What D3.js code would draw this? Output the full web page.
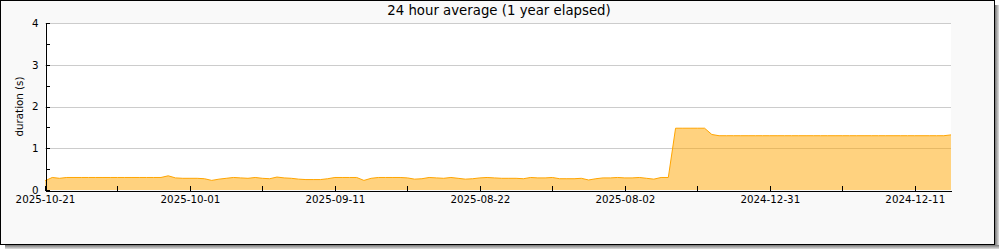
<!DOCTYPE html>
<html>
<head>
<meta charset="utf-8">
<script src="https://cdn.jsdelivr.net/npm/d3@7"></script>
<style>
  body { margin: 0; background: #fff; }
  text { font-family: "DejaVu Sans", sans-serif; fill: #000; }
</style>
</head>
<body>
<div id="chart"></div>
<script>
// Chart data
var title = "24 hour average (1 year elapsed)";
var yTitle = "duration (s)";
var xLabels = ["2025-10-21", "2025-10-01", "2025-09-11", "2025-08-22", "2025-08-02", "2024-12-31", "2024-12-11"];
var yTicks = [0, 1, 2, 3, 4];

// one sample per day, left to right
var durations = [
    0.22, 0.30, 0.28, 0.30, 0.30, 0.30, 0.30, 0.30, 0.30, 0.30,
    0.30, 0.30, 0.30, 0.30, 0.30, 0.30, 0.30, 0.34, 0.29, 0.28,
    0.28, 0.28, 0.27, 0.23, 0.26, 0.28, 0.30, 0.29, 0.28, 0.30,
    0.28, 0.27, 0.31, 0.29, 0.28, 0.26, 0.25, 0.25, 0.25, 0.27,
    0.30, 0.30, 0.30, 0.30, 0.23, 0.28, 0.30, 0.30, 0.30, 0.30,
    0.29, 0.26, 0.27, 0.30, 0.29, 0.28, 0.30, 0.28, 0.26, 0.27,
    0.29, 0.30, 0.29, 0.28, 0.28, 0.28, 0.27, 0.30, 0.29, 0.29,
    0.30, 0.27, 0.27, 0.27, 0.28, 0.24, 0.27, 0.29, 0.29, 0.30,
    0.29, 0.29, 0.30, 0.28, 0.26, 0.30, 0.30, 1.48, 1.48, 1.48,
    1.48, 1.48, 1.33, 1.30, 1.30, 1.30, 1.30, 1.30, 1.30, 1.30,
    1.30, 1.30, 1.30, 1.30, 1.30, 1.30, 1.30, 1.30, 1.30, 1.30,
    1.30, 1.30, 1.30, 1.30, 1.30, 1.30, 1.30, 1.30, 1.30, 1.30,
    1.30, 1.30, 1.30, 1.30, 1.30, 1.32
];

var svgWidth = 1000;
var svgHeight = 250;

// plot area (pixels)
var plot = { left: 45, right: 951, top: 23, bottom: 190 };

var svg = d3.select("#chart")
    .append("svg")
    .attr("width", svgWidth)
    .attr("height", svgHeight);

// drop shadow
var defs = svg.append("defs");
var gRight = defs.append("linearGradient").attr("id", "shR").attr("x1", 0).attr("x2", 1).attr("y1", 0).attr("y2", 0);
gRight.append("stop").attr("offset", "0%").attr("stop-color", "#777");
gRight.append("stop").attr("offset", "100%").attr("stop-color", "#e0e0e0");
var gBottom = defs.append("linearGradient").attr("id", "shB").attr("x1", 0).attr("x2", 0).attr("y1", 0).attr("y2", 1);
gBottom.append("stop").attr("offset", "0%").attr("stop-color", "#777");
gBottom.append("stop").attr("offset", "100%").attr("stop-color", "#e0e0e0");

svg.append("rect").attr("x", 995).attr("y", 5).attr("width", 4).attr("height", 244).attr("fill", "url(#shR)");
svg.append("rect").attr("x", 5).attr("y", 245).attr("width", 994).attr("height", 4).attr("fill", "url(#shB)");

// frame
svg.append("rect")
    .attr("x", 0.5).attr("y", 0.5)
    .attr("width", 994).attr("height", 244)
    .attr("fill", "#f9f9f9")
    .attr("stroke", "#000")
    .attr("stroke-width", 1);
svg.append("line").attr("x1", 994.5).attr("x2", 994.5).attr("y1", 0).attr("y2", 245).attr("stroke", "#000").attr("stroke-width", 1);
svg.append("line").attr("x1", 0).attr("x2", 995).attr("y1", 244.5).attr("y2", 244.5).attr("stroke", "#000").attr("stroke-width", 1);

// plot background
svg.append("rect")
    .attr("x", plot.left).attr("y", plot.top)
    .attr("width", plot.right - plot.left).attr("height", plot.bottom - plot.top)
    .attr("fill", "#fff");

// scales
var nDays = durations.length - 1;
var xScale = d3.scaleLinear().domain([0, nDays]).range([plot.left, plot.right]);
var yScale = d3.scaleLinear().domain([0, 4]).range([plot.bottom, plot.top]);

// horizontal grid
svg.append("g")
    .selectAll("line")
    .data(yTicks.filter(d => d > 0))
    .enter()
    .append("line")
    .attr("x1", plot.left)
    .attr("x2", plot.right)
    .attr("y1", d => Math.round(yScale(d)) + 0.5)
    .attr("y2", d => Math.round(yScale(d)) + 0.5)
    .attr("stroke", "#cccccc")
    .attr("stroke-width", 1);

// area + line
var area = d3.area()
    .x((d, i) => xScale(i))
    .y0(yScale(0))
    .y1(d => yScale(d));

var line = d3.line()
    .x((d, i) => xScale(i))
    .y(d => yScale(d));

svg.append("path")
    .datum(durations)
    .attr("d", area)
    .attr("fill", "#ffa500")
    .attr("fill-opacity", 0.5);

svg.append("path")
    .datum(durations)
    .attr("d", line)
    .attr("fill", "none")
    .attr("stroke", "#ffa500")
    .attr("stroke-width", 1);

// axes
var xTickDays = d3.range(0, nDays, 10);
var bottomAxis = d3.axisBottom(xScale)
    .tickValues(xTickDays)
    .tickSize(-5)
    .tickSizeOuter(0)
    .tickPadding(5)
    .tickFormat(d => d % 20 === 0 ? xLabels[d / 20] : "");

var leftAxis = d3.axisLeft(yScale)
    .tickValues(d3.range(0, 4.01, 0.5))
    .tickSize(-4)
    .tickSizeOuter(0)
    .tickPadding(7)
    .tickFormat(d => Number.isInteger(d) ? d : "");

var xAxis = svg.append("g")
    .attr("transform", `translate(0, ${plot.bottom + 0.5})`)
    .call(bottomAxis);

var yAxis = svg.append("g")
    .attr("transform", `translate(${plot.left + 0.5}, 0)`)
    .call(leftAxis);

[xAxis, yAxis].forEach(function(ax) {
    ax.selectAll("text").style("font-family", "DejaVu Sans").style("font-size", "10.3px").attr("fill", "#000");
    ax.selectAll("line, path").attr("stroke", "#000").attr("shape-rendering", "crispEdges");
});

// titles
svg.append("text")
    .attr("x", 499)
    .attr("y", 15)
    .attr("text-anchor", "middle")
    .style("font-size", "13.3px")
    .text(title);

svg.append("text")
    .attr("transform", `translate(23, ${(plot.top + plot.bottom) / 2}) rotate(-90)`)
    .attr("text-anchor", "middle")
    .style("font-size", "10.3px")
    .text(yTitle);
</script>
</body>
</html>
